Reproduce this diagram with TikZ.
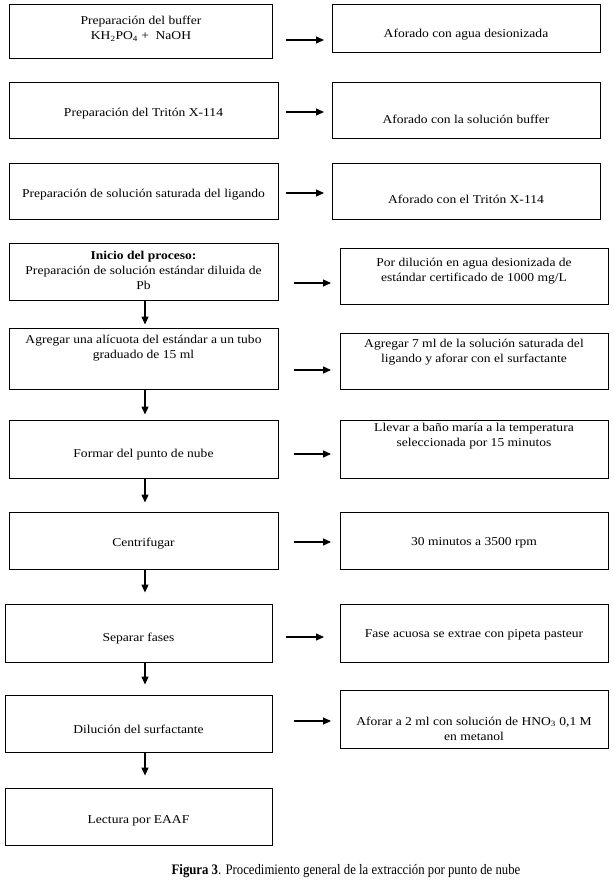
\documentclass[tikz,border=0pt]{standalone}
\usepackage{fontspec}
\setmainfont{Liberation Serif}[FakeStretch=1.13]
\newfontfamily\capfont{Liberation Serif}[FakeStretch=0.88]
\usetikzlibrary{arrows.meta}
\tikzset{
  box/.style={draw, line width=0.9pt, inner sep=0pt, rectangle},
  txt/.style={align=center, inner sep=0pt, font=\fontsize{12}{15}\selectfont},
  arr/.style={line width=1.1pt, -{Triangle[length=8pt,width=7pt]}},
}
\begin{document}
\begin{tikzpicture}[x=1pt,y=1pt]
\useasboundingbox (0,0) rectangle (613,-882);
% boxes
\node[box, minimum width=263pt, minimum height=54pt] (L1) at (140.5,-31) {};
\node[box, minimum width=268pt, minimum height=48pt] (R1) at (466,-28) {};
\node[box, minimum width=269pt, minimum height=56pt] (L2) at (143.5,-110) {};
\node[box, minimum width=268pt, minimum height=56pt] (R2) at (466,-110) {};
\node[box, minimum width=269pt, minimum height=56pt] (L3) at (143.5,-191) {};
\node[box, minimum width=268pt, minimum height=56pt] (R3) at (466,-191) {};
\node[box, minimum width=269pt, minimum height=57pt] (L4) at (143.5,-271.5) {};
\node[box, minimum width=268pt, minimum height=56pt] (R4) at (474,-276) {};
\node[box, minimum width=269pt, minimum height=61pt] (L5) at (143.5,-358.5) {};
\node[box, minimum width=268pt, minimum height=56pt] (R5) at (474,-361) {};
\node[box, minimum width=269pt, minimum height=58pt] (L6) at (143.5,-449) {};
\node[box, minimum width=268pt, minimum height=58pt] (R6) at (474,-449) {};
\node[box, minimum width=269pt, minimum height=57pt] (L7) at (143.5,-540.5) {};
\node[box, minimum width=268pt, minimum height=57pt] (R7) at (474,-540.5) {};
\node[box, minimum width=267pt, minimum height=58pt] (L8) at (138.5,-633) {};
\node[box, minimum width=268pt, minimum height=58pt] (R8) at (474,-633) {};
\node[box, minimum width=267pt, minimum height=57pt] (L9) at (138.5,-723.5) {};
\node[box, minimum width=268pt, minimum height=58pt] (R9) at (474,-719) {};
\node[box, minimum width=267pt, minimum height=57pt] (L10) at (138.5,-816.5) {};
% texts
\node[txt] (tL1) at (141,-28.5) {Preparación del buffer\\KH\textsubscript{2}PO\textsubscript{4} +\ \ NaOH};
\node[txt] (tR1) at (466,-35) {Aforado con agua desionizada};
\node[txt] (tL2) at (143.5,-114) {Preparación del Tritón X-114};
\node[txt] (tR2) at (466,-119) {Aforado con la solución buffer};
\node[txt] (tL3) at (143.5,-195) {Preparación de solución saturada del ligando};
\node[txt] (tR3) at (466,-199) {Aforado con el Tritón X-114};
\node[txt] (tL4) at (143.5,-270.5) {\textbf{Inicio del proceso:}\\Preparación de solución estándar diluida de\\Pb};
\node[txt] (tR4) at (474,-271.5) {Por dilución en agua desionizada de\\estándar certificado de 1000 mg/L};
\node[txt] (tL5) at (143.5,-348) {Agregar una alícuota del estándar a un tubo\\graduado de 15 ml};
\node[txt] (tR5) at (474,-352) {Agregar 7 ml de la solución saturada del\\ligando y aforar con el surfactante};
\node[txt] (tL6) at (143.5,-455) {Formar del punto de nube};
\node[txt] (tR6) at (474,-436.5) {Llevar a baño maría a la temperatura\\seleccionada por 15 minutos};
\node[txt] (tL7) at (143.5,-544) {Centrifugar};
\node[txt] (tR7) at (474,-543) {30 minutos a 3500 rpm};
\node[txt] (tL8) at (138.5,-638.5) {Separar fases};
\node[txt] (tR8) at (474,-635) {Fase acuosa se extrae con pipeta pasteur};
\node[txt] (tL9) at (138.5,-729) {Dilución del surfactante};
\node[txt] (tR9) at (474,-728.5) {Aforar a 2 ml con solución de HNO\textsubscript{3} 0,1 M\\en metanol};
\node[txt] (tL10) at (138.5,-821) {Lectura por EAAF};
\node[txt, font=\capfont\fontsize{14.5}{16}\selectfont] (cap) at (346,-871) {\textbf{Figura 3}. Procedimiento general de la extracción por punto de nube};
% horizontal arrow ends
\coordinate (a1s) at (286,-40);  \coordinate (a1e) at (324,-40);
\coordinate (a2s) at (286,-112); \coordinate (a2e) at (324,-112);
\coordinate (a3s) at (286,-193); \coordinate (a3e) at (324,-193);
\coordinate (a4s) at (294,-283); \coordinate (a4e) at (331,-283);
\coordinate (a5s) at (294,-370); \coordinate (a5e) at (331,-370);
\coordinate (a6s) at (294,-454); \coordinate (a6e) at (331,-454);
\coordinate (a7s) at (294,-542); \coordinate (a7e) at (331,-542);
\coordinate (a8s) at (286,-637); \coordinate (a8e) at (324,-637);
\coordinate (a9s) at (294,-721); \coordinate (a9e) at (331,-721);
\foreach \i in {1,...,9} {\draw[arr] (a\i s) -- (a\i e);}
% vertical arrows
\coordinate (vx) at (145,0);
\draw[arr, shorten >=3pt] (L4.south -| vx) -- (L5.north -| vx);
\draw[arr, shorten >=5pt] (L5.south -| vx) -- (L6.north -| vx);
\draw[arr, shorten >=9pt] (L6.south -| vx) -- (L7.north -| vx);
\draw[arr, shorten >=11pt] (L7.south -| vx) -- (L8.north -| vx);
\draw[arr, shorten >=10pt] (L8.south -| vx) -- (L9.north -| vx);
\draw[arr, shorten >=12pt] (L9.south -| vx) -- (L10.north -| vx);
\end{tikzpicture}
\end{document}
